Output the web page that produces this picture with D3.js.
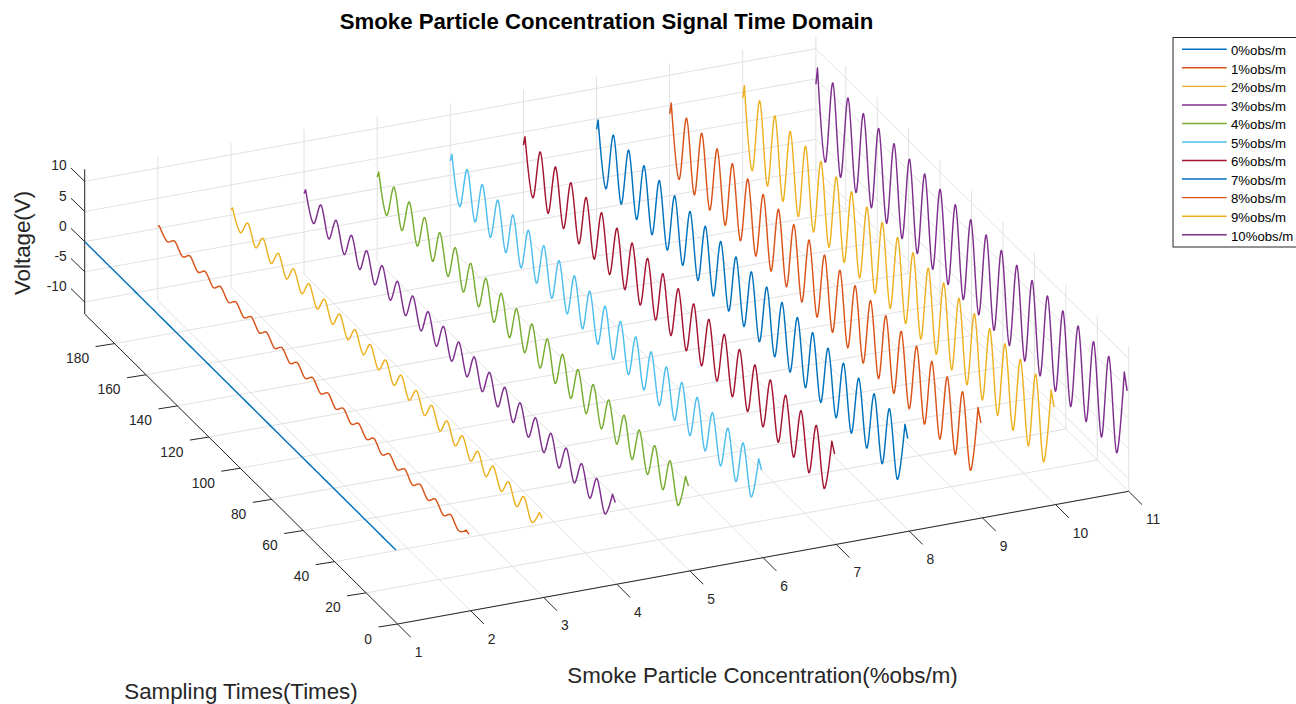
<!DOCTYPE html>
<html>
<head>
<meta charset="utf-8">
<style>
html, body { margin: 0; padding: 0; background: #fff; overflow: hidden; }
svg { display: block; font-family: "Liberation Sans", Arial, sans-serif; }
.grid { stroke: #e1e1e1; stroke-width: 1; fill: none; }
.axis { stroke: #262626; stroke-width: 1; fill: none; }
.tick-label { font-size: 13.8px; fill: #262626; }
.trace { fill: none; stroke-width: 1.45; stroke-linejoin: round; }
</style>
</head>
<body>
<div id="graph"></div>
<script src="https://cdn.jsdelivr.net/npm/d3@7"></script>
<script>
const width = 1296, height = 704;

const xTicks = [1, 2, 3, 4, 5, 6, 7, 8, 9, 10, 11];
const yTicks = [0, 20, 40, 60, 80, 100, 120, 140, 160, 180];
const zTicks = [-10, -5, 0, 5, 10];
const legendLabels = ["0%obs/m", "1%obs/m", "2%obs/m", "3%obs/m", "4%obs/m", "5%obs/m", "6%obs/m", "7%obs/m", "8%obs/m", "9%obs/m", "10%obs/m"];
const lineColors = ["#0072BD", "#D95319", "#EDB120", "#7E2F8E", "#77AC30", "#4DBEEE", "#A2142F", "#0072BD", "#D95319", "#EDB120", "#7E2F8E"];

// sampling times of the turning points, front of the plot to the back
const samples = [1, 2.8, 7.7, 12.6, 17.4, 22.3, 27.2, 32.1, 37, 41.8, 46.7, 51.6, 56.5, 61.4, 66.2, 71.1, 76, 80.9, 85.8, 90.6, 95.5, 100.4, 105.3, 110.2, 115, 119.9, 124.8, 129.7, 134.6, 139.4, 144.3, 149.2, 154.1, 159, 163.8, 168.7, 173.6, 178.5, 183.4, 188.2, 193.1, 198, 199];

const volt0 = [0, 0, 0, 0, 0, 0, 0, 0, 0, 0, 0, 0, 0, 0, 0, 0, 0, 0, 0, 0, 0, 0, 0, 0, 0, 0, 0, 0, 0, 0, 0, 0, 0, 0, 0, 0, 0, 0, 0, 0, 0, 0, 0];
const volt1 = [0.4, 0.65, -0.7, 0.65, -0.65, 0.7, -0.65, 0.65, -0.7, 0.65, -0.65, 0.65, -0.7, 0.7, -0.65, 0.65, -0.65, 0.65, -0.7, 0.65, -0.65, 0.7, -0.65, 0.65, -0.65, 0.65, -0.7, 0.65, -0.65, 0.7, -0.65, 0.65, -0.65, 0.65, -0.7, 0.65, -0.65, 0.7, -0.65, 0.65, -0.65, 0.65, 0.4];
const volt2 = [0.9, 1.4, -1.5, 1.45, -1.4, 1.4, -1.4, 1.45, -1.45, 1.4, -1.4, 1.45, -1.4, 1.4, -1.45, 1.45, -1.4, 1.4, -1.4, 1.45, -1.45, 1.4, -1.4, 1.45, -1.4, 1.4, -1.45, 1.45, -1.4, 1.4, -1.4, 1.45, -1.4, 1.4, -1.45, 1.45, -1.4, 1.4, -1.35, 1.45, -1.35, 1.45, 0.9];
const volt3 = [1.3, 2.2, -2.3, 2.25, -2.2, 2.2, -2.2, 2.25, -2.25, 2.2, -2.2, 2.25, -2.2, 2.2, -2.25, 2.25, -2.2, 2.2, -2.2, 2.25, -2.25, 2.2, -2.2, 2.25, -2.2, 2.2, -2.2, 2.25, -2.2, 2.2, -2.15, 2.25, -2.15, 2.2, -2.1, 2.25, -2.15, 2.2, -2.1, 2.25, -2.05, 2.25, 1.4];
const volt4 = [1.8, 3, -3.1, 3, -3, 3, -3, 3.05, -3.05, 3, -3, 3, -3, 3.05, -3, 3, -3, 3, -3.05, 3.05, -3, 3, -3, 3, -3, 3.05, -3, 3, -2.95, 3, -3, 3.05, -2.95, 3, -2.95, 3, -2.95, 3.05, -2.9, 3, -2.9, 3, 1.9];
const volt5 = [2.3, 3.7, -3.9, 3.75, -3.85, 3.7, -3.8, 3.75, -3.85, 3.75, -3.8, 3.7, -3.8, 3.75, -3.85, 3.75, -3.8, 3.7, -3.8, 3.75, -3.8, 3.75, -3.8, 3.7, -3.75, 3.75, -3.8, 3.75, -3.75, 3.7, -3.75, 3.75, -3.75, 3.75, -3.7, 3.7, -3.7, 3.75, -3.7, 3.75, -3.65, 3.75, 2.4];
const volt6 = [2.7, 4.4, -4.7, 4.45, -4.6, 4.4, -4.55, 4.45, -4.6, 4.45, -4.55, 4.4, -4.55, 4.45, -4.6, 4.45, -4.55, 4.4, -4.55, 4.45, -4.55, 4.45, -4.55, 4.4, -4.5, 4.45, -4.55, 4.45, -4.5, 4.4, -4.5, 4.45, -4.5, 4.45, -4.45, 4.4, -4.45, 4.45, -4.45, 4.45, -4.4, 4.45, 2.8];
const volt7 = [3.1, 5, -5.4, 5.05, -5.3, 5, -5.25, 5.05, -5.3, 5.05, -5.25, 5, -5.25, 5.05, -5.3, 5.05, -5.25, 5, -5.25, 5.05, -5.25, 5.05, -5.25, 5, -5.2, 5.05, -5.25, 5.05, -5.2, 5, -5.2, 5.05, -5.2, 5.05, -5.15, 5, -5.15, 5.05, -5.15, 5.05, -5.1, 5.05, 3.2];
const volt8 = [3.5, 5.6, -6.1, 5.65, -6, 5.6, -5.95, 5.65, -6, 5.65, -5.95, 5.6, -5.95, 5.65, -6, 5.65, -5.95, 5.6, -5.95, 5.65, -5.9, 5.65, -5.9, 5.6, -5.9, 5.65, -5.9, 5.65, -5.85, 5.6, -5.85, 5.65, -5.85, 5.65, -5.8, 5.6, -5.8, 5.65, -5.8, 5.65, -5.75, 5.65, 3.6];
const volt9 = [3.9, 6.3, -6.9, 6.35, -6.75, 6.3, -6.7, 6.35, -6.75, 6.35, -6.7, 6.3, -6.7, 6.35, -6.75, 6.35, -6.7, 6.3, -6.7, 6.35, -6.65, 6.35, -6.65, 6.3, -6.65, 6.35, -6.65, 6.35, -6.6, 6.3, -6.6, 6.35, -6.6, 6.35, -6.55, 6.3, -6.55, 6.35, -6.55, 6.35, -6.5, 6.35, 4];
const volt10 = [4.4, 7.05, -7.6, 7.1, -7.5, 7.05, -7.45, 7.1, -7.5, 7.1, -7.45, 7.05, -7.45, 7.1, -7.5, 7.1, -7.45, 7.05, -7.45, 7.1, -7.4, 7.1, -7.4, 7.05, -7.4, 7.1, -7.4, 7.1, -7.35, 7.05, -7.35, 7.1, -7.35, 7.1, -7.3, 7.05, -7.3, 7.1, -7.3, 7.1, -7.3, 7.05, 4.1];
const voltages = [volt0, volt1, volt2, volt3, volt4, volt5, volt6, volt7, volt8, volt9, volt10];

// the 3D box is an orthographic view, so each data axis moves the screen point by a fixed vector
const xToLeft = d3.scaleLinear().domain([1, 11]).range([397.5, 1128.7]);
const xToTop = d3.scaleLinear().domain([1, 11]).range([624, 491.3]);
const yToLeft = d3.scaleLinear().domain([0, 199]).range([0, -312.8]);
const yToTop = d3.scaleLinear().domain([0, 199]).range([0, -310]);
const zToTop = d3.scaleLinear().domain([-12, 12]).range([0, -144.7]);

const project = (x, y, z) => {
    return [xToLeft(x) + yToLeft(y), xToTop(x) + yToTop(y) + zToTop(z)];
};

const createSVG = () => {
    return d3.select("#graph")
        .append("svg")
        .attr("width", width)
        .attr("height", height);
};

const appendSegment = (group, className, from, to) => {
    return group.append("path")
        .attr("class", className)
        .attr("d", d3.line()([from, to]));
};

const createGrid = (svg) => {
    const g = svg.append("g");
    const [xMin, xMax] = xToLeft.domain();
    const yMax = yToLeft.domain()[1];
    const [zMin, zMax] = zToTop.domain();
    xTicks.forEach((x) => {
        appendSegment(g, "grid", project(x, 0, zMin), project(x, yMax, zMin));
        appendSegment(g, "grid", project(x, yMax, zMin), project(x, yMax, zMax));
    });
    yTicks.forEach((y) => {
        appendSegment(g, "grid", project(xMin, y, zMin), project(xMax, y, zMin));
        appendSegment(g, "grid", project(xMax, y, zMin), project(xMax, y, zMax));
    });
    zTicks.forEach((z) => {
        appendSegment(g, "grid", project(xMin, yMax, z), project(xMax, yMax, z));
        appendSegment(g, "grid", project(xMax, yMax, z), project(xMax, 0, z));
    });
};

const createAxes = (svg) => {
    const g = svg.append("g");
    const [xMin, xMax] = xToLeft.domain();
    const yMax = yToLeft.domain()[1];
    const [zMin, zMax] = zToTop.domain();
    appendSegment(g, "axis", project(xMin, 0, zMin), project(xMax, 0, zMin));
    appendSegment(g, "axis", project(xMin, 0, zMin), project(xMin, yMax, zMin));
    appendSegment(g, "axis", project(xMin, yMax, zMin), project(xMin, yMax, zMax));

    xTicks.forEach((x) => {
        const [px, py] = project(x, 0, zMin);
        appendSegment(g, "axis", [px, py], [px + 13.3, py + 13.3]);
        g.append("text").attr("class", "tick-label")
            .attr("x", px + 17.2).attr("y", py + 33)
            .text(x);
    });
    yTicks.forEach((y) => {
        const [px, py] = project(xMin, y, zMin);
        appendSegment(g, "axis", [px, py], [px - 19, py + 3]);
        g.append("text").attr("class", "tick-label")
            .attr("x", px - 25.5).attr("y", py + 19.5)
            .attr("text-anchor", "end")
            .text(y);
    });
    zTicks.forEach((z) => {
        const [px, py] = project(xMin, yMax, z);
        appendSegment(g, "axis", [px, py], [px - 13.7, py - 13.3]);
        g.append("text").attr("class", "tick-label")
            .attr("x", px - 18).attr("y", py - 11)
            .attr("text-anchor", "end")
            .text(z);
    });
};

// the two end samples sit very close to a peak, so they join the curve with a straight piece
const tracePath = (points) => {
    const body = d3.line().curve(d3.curveCatmullRom.alpha(0))(points.slice(1, -1));
    return d3.line()([points[0]]).replace("Z", "") + "L" + body.slice(1) + "L" + points[points.length - 1].join(",");
};

const createTraces = (svg) => {
    svg.append("g").selectAll("path")
        .data(voltages)
        .join("path")
        .attr("class", "trace")
        .attr("stroke", (d, i) => lineColors[i])
        .attr("d", (d, i) => tracePath(d.map((v, j) => project(xTicks[i], samples[j], v))));
};

const createLabels = (svg) => {
    svg.append("text")
        .attr("x", 606.5).attr("y", 29)
        .attr("text-anchor", "middle")
        .attr("font-size", 22.2)
        .attr("font-weight", "bold")
        .text("Smoke Particle Concentration Signal Time Domain");
    svg.append("text")
        .attr("x", 762.5).attr("y", 683)
        .attr("text-anchor", "middle")
        .attr("font-size", 22.3)
        .attr("fill", "#262626")
        .text("Smoke Particle Concentration(%obs/m)");
    svg.append("text")
        .attr("x", 241).attr("y", 699)
        .attr("text-anchor", "middle")
        .attr("font-size", 22.3)
        .attr("fill", "#262626")
        .text("Sampling Times(Times)");
    svg.append("text")
        .attr("transform", "translate(30, 243) rotate(-90)")
        .attr("text-anchor", "middle")
        .attr("font-size", 22.3)
        .attr("fill", "#262626")
        .text("Voltage(V)");
};

const createLegend = (svg) => {
    const rowScale = d3.scalePoint()
        .domain(legendLabels)
        .range([49.3, 234.7]);
    const g = svg.append("g");
    g.append("rect")
        .attr("x", 1173).attr("y", 37.5)
        .attr("width", 140).attr("height", 209.5)
        .attr("fill", "#fff")
        .attr("stroke", "#262626");
    legendLabels.forEach((label, i) => {
        appendSegment(g, "trace", [1182, rowScale(label)], [1226.7, rowScale(label)])
            .attr("stroke", lineColors[i]);
        g.append("text")
            .attr("x", 1231).attr("y", rowScale(label) + 5.8)
            .attr("font-size", 13.2)
            .text(label);
    });
};

const createGraph = () => {
    const svg = createSVG();
    createGrid(svg);
    createAxes(svg);
    createTraces(svg);
    createLabels(svg);
    createLegend(svg);
};

createGraph();
</script>
</body>
</html>
